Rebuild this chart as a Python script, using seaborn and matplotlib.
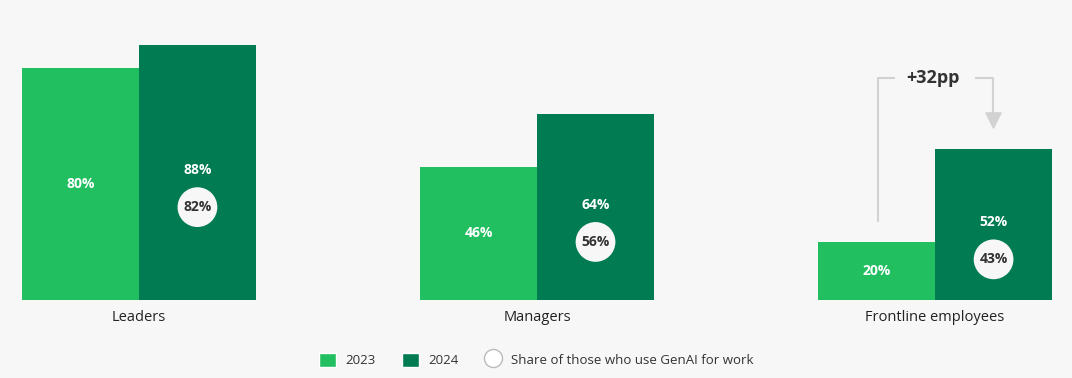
import pandas as pd
import numpy as np
import matplotlib.pyplot as plt
import seaborn as sns
from matplotlib.lines import Line2D
from matplotlib.patches import Patch

groups = ["Leaders", "Managers", "Frontline employees"]
years = ["2023", "2024"]
share_2023 = [80, 46, 20]
share_2024 = [88, 64, 52]
genai_users = [82, 56, 43]
gap_label = "+32pp"

c23 = "#22bf61"
c24 = "#007b52"
bg = "#f7f7f7"

df = pd.DataFrame({
    "group": groups * 2,
    "year": [years[0]] * 3 + [years[1]] * 3,
    "value": share_2023 + share_2024,
})

sns.set_style("white")
plt.rcParams["font.family"] = ["Open Sans", "DejaVu Sans"]

fig = plt.figure(figsize=(10.72, 3.78), dpi=100, facecolor=bg)
ax = fig.add_axes([0, 0, 1, 1])
ax.set_facecolor(bg)

sns.barplot(data=df, x="group", y="value", hue="year", order=groups,
            hue_order=years, palette=[c23, c24], width=0.588, gap=0,
            saturation=1, legend=False, ax=ax, linewidth=0)

ax.set_xlim(-0.349, 2.344)
ax.set_ylim(-26.9, 103.4)
for s in ax.spines.values():
    s.set_visible(False)
ax.set_xticks([])
ax.set_yticks([])
ax.set_xlabel("")
ax.set_ylabel("")

off = 0.147
for i, g in enumerate(groups):
    ax.text(i - off, share_2023[i] / 2, f"{share_2023[i]}%", color="white",
            ha="center", va="center", fontsize=10, fontweight="bold")
    ax.text(i + off, share_2024[i] / 2 + 0.8, f"{share_2024[i]}%", color="white",
            ha="center", va="center", fontsize=10, fontweight="bold")
    yc = share_2024[i] / 2 - 12
    ax.scatter([i + off], [yc], s=820, color="#f7f7f7", edgecolor="none", zorder=3)
    ax.text(i + off, yc, f"{genai_users[i]}%", color="#333333",
            ha="center", va="center", fontsize=10, fontweight="bold", zorder=4)
    ax.text(i, -6.2, g, ha="center", va="center", fontsize=10.5, color="#222222")

# gap bracket on frontline employees
lc = "#d2d2d2"
xl, xr, yt = 1.857, 2.146, 76.6
ax.plot([xl, xl, 1.9], [27, yt, yt], color=lc, lw=1.5, solid_capstyle="butt")
ax.plot([2.1, xr, xr], [yt, yt, 63], color=lc, lw=1.5, solid_capstyle="butt")
ax.scatter([xr], [62], marker="v", s=120, color=lc, zorder=3)
ax.text(1.995, yt, gap_label, ha="center", va="center", fontsize=13,
        fontweight="bold", color="#333333")

handles = [
    Patch(facecolor=c23, label=years[0]),
    Patch(facecolor=c24, label=years[1]),
    Line2D([0], [0], marker="o", linestyle="none", markersize=13,
           markerfacecolor="white", markeredgecolor="#bbbbbb",
           label="Share of those who use GenAI for work"),
]
fig.legend(handles=handles, loc="center", bbox_to_anchor=(0.5, 0.048),
           ncol=3, frameon=False, fontsize=9.5, handlelength=1.3,
           handleheight=1.3, columnspacing=2.0, handletextpad=0.7,
           labelcolor="#333333")

fig.savefig("out.png", dpi=100, facecolor=bg)
